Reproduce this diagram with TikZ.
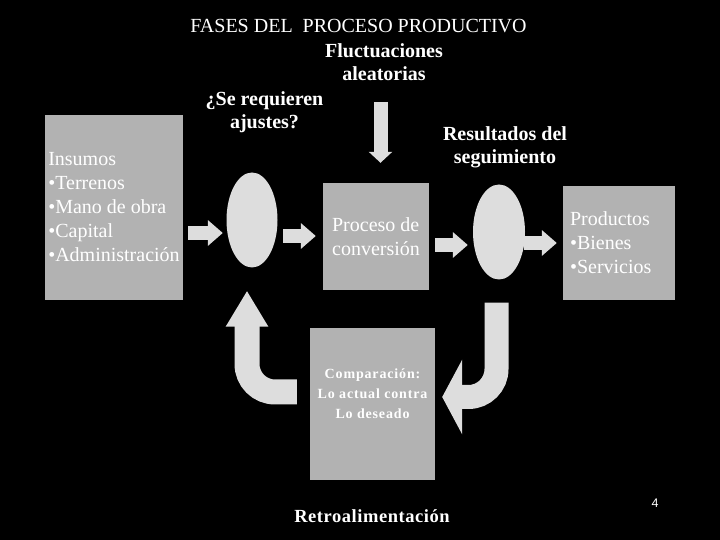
\documentclass[tikz,border=0pt]{standalone}
\usepackage{fontspec}
\setmainfont{Liberation Serif}
\newfontfamily\pagefont{Liberation Sans}
\usetikzlibrary{shapes.geometric,arrows.meta}

\definecolor{boxgray}{RGB}{178,178,178}
\definecolor{shapegray}{RGB}{221,221,221}

\tikzset{
	phasebox/.style={fill=boxgray, inner sep=0pt, text=white, align=left,
		font=\fontsize{20}{24}\selectfont},
	phaseoval/.style={ellipse, fill=shapegray, inner sep=0pt,
		minimum width=51pt, minimum height=95pt},
	blockarrow/.style={draw=shapegray, line width=14pt,
		-{Triangle[width=25pt,length=15pt]}},
	bentarrow/.style={draw=shapegray, line width=25pt, rounded corners=28pt},
	boldlabel/.style={text=white, inner sep=0pt, align=center,
		font=\fontsize{20}{23}\selectfont\bfseries}
}

\begin{document}
\begin{tikzpicture}[x=1pt,y=1pt]
		% Background
		\fill[black] (0,0) rectangle (720,540);

		% Titles and labels
		\node[text=white, inner sep=0pt, font=\fontsize{20}{24}\selectfont] (titulo) at (358.5,513.5) {FASES DEL\ \ PROCESO PRODUCTIVO};
		\node[boldlabel] (fluct) at (384,478) {Fluctuaciones\\aleatorias};
		\node[boldlabel] (ajustes) at (264.5,428) {¿Se requieren\\ajustes?};
		\node[boldlabel] (resultados) at (505,392.5) {Resultados del\\seguimiento};

		% Boxes and ovals
		\node[phasebox, minimum width=138pt, minimum height=185pt] (insumos) at (114,332.5) {Insumos\\•Terrenos\\•Mano de obra\\•Capital\\•Administración};
		\node[phaseoval] (ovalin) at (252,320) {};
		\node[phasebox, minimum width=106pt, minimum height=107pt] (conversion) at (376,303.5) {Proceso de\\conversión};
		\node[phaseoval, minimum width=52pt] (ovalout) at (499,308) {};
		\node[phasebox, text width=98pt, inner xsep=7pt, minimum height=114pt] (productos) at (619,297) {Productos\\•Bienes\\•Servicios};

		\node[phasebox, minimum width=125pt, minimum height=152pt] (comparacion) at (372.5,136) {};
		\node[text=white, inner sep=0pt, align=center, font=\fontsize{14}{20}\selectfont\bfseries\addfontfeature{LetterSpace=6}] (comptext) at (372.5,146) {Comparación:\\Lo actual contra\\Lo deseado};

		% -----------------------------------------------------
		% Straight block arrows
		\draw[blockarrow] ([xshift=5pt,yshift=-25.5pt]insumos.east) -- ([xshift=-3.5pt,yshift=-13pt]ovalin.west);
		\draw[blockarrow] ([xshift=5.5pt,yshift=-16pt]ovalin.east) -- ([xshift=-7pt,yshift=0.5pt]conversion.west);
		\draw[blockarrow] ([xshift=6pt,yshift=-8.5pt]conversion.east) -- ([xshift=-5pt,yshift=-13pt]ovalout.west);
		\draw[blockarrow] ([xshift=-1pt,yshift=-11pt]ovalout.east) -- ([xshift=-6pt]productos.west);

		\coordinate (ruido) at ([xshift=4.5pt,yshift=81pt]conversion.north);
		\draw[blockarrow, -{Triangle[width=23pt,length=11pt]}] (ruido) -- ([xshift=4.5pt,yshift=20pt]conversion.north);

		% -----------------------------------------------------
		% Feedback arrows
		\draw[bentarrow, -{Triangle[width=40pt,length=36pt]}] ([xshift=-13pt,yshift=12pt]comparacion.west) -| ([xshift=-5pt,yshift=-23pt]ovalin.south);
		\draw[bentarrow, line width=24pt, -{Triangle[width=74pt,length=20pt]}] ([xshift=-2.5pt,yshift=-23pt]ovalout.south) |- ([xshift=7pt,yshift=7pt]comparacion.east);

		\node[text=white, inner sep=0pt, font=\fontsize{18.5}{22}\selectfont\bfseries\addfontfeature{LetterSpace=3}] (retro) at (372,24) {Retroalimentación};
		\node[text=white, inner sep=0pt, font=\pagefont\fontsize{12.5}{14}\selectfont] (pagina) at (655,36.5) {4};

\end{tikzpicture}
\end{document}
